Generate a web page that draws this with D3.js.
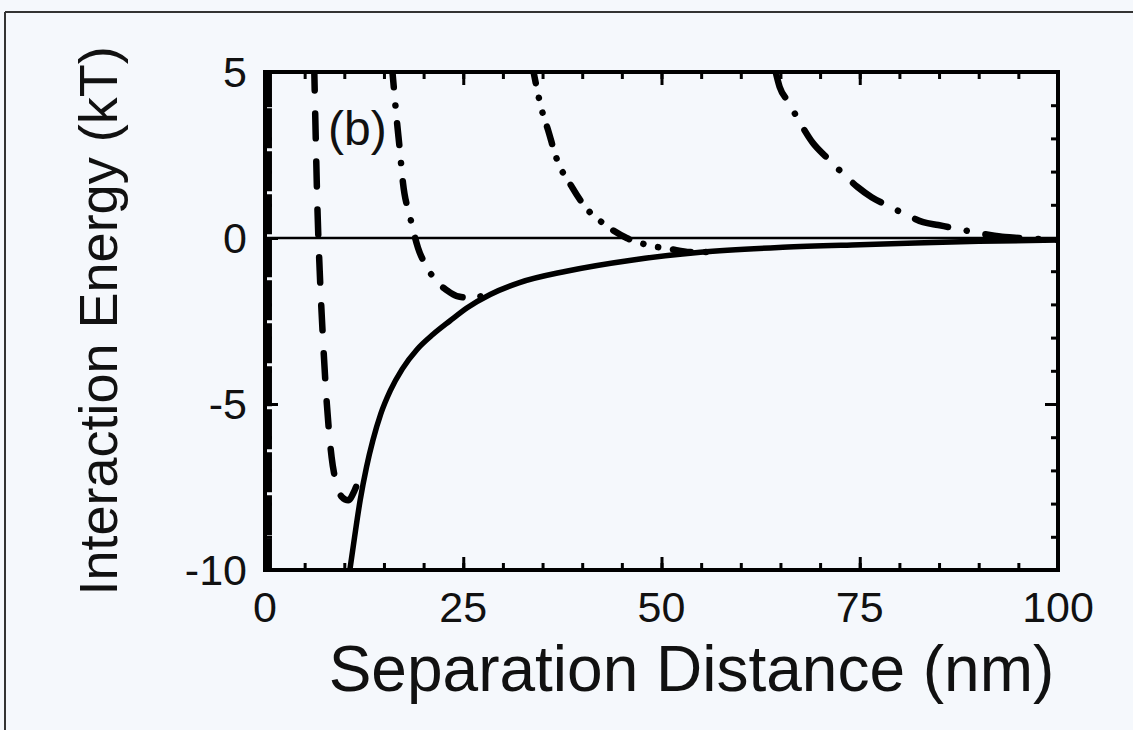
<!DOCTYPE html>
<html>
<head>
<meta charset="utf-8">
<script src="https://cdn.jsdelivr.net/npm/d3@7"></script>
<style>
  html, body { margin: 0; padding: 0; background: #f5f8fc; }
  #chart { width: 1133px; height: 730px; }
  text { font-family: "Liberation Sans", Arial, Helvetica, sans-serif; fill: #111; }
</style>
</head>
<body>
<div id="chart"></div>
<script>
// axis ticks
const xMajorTicks = [0, 25, 50, 75, 100];
const xMinorTicks = [0, 5, 10, 15, 20, 25, 30, 35, 40, 45, 50, 55, 60, 65, 70, 75, 80, 85, 90, 95, 100];
const yMajorTicks = [-10, -5, 0, 5];
const yMinorTicks = [-10, -9, -8, -7, -6, -5, -4, -3, -2, -1, 0, 1, 2, 3, 4, 5];

// curves, [separation nm, energy kT]
const wallCurve = [[0.5, 5.2], [0.5, -10.2]];

const solidCurve = [
  [10.7, -10], [11.3, -9], [12.0, -7.9], [12.8, -6.9], [13.6, -6.1], [14.6, -5.3],
  [15.8, -4.6], [17.3, -3.95], [19.2, -3.35], [21.2, -2.9], [23.3, -2.5], [25.5, -2.1],
  [28.4, -1.7], [32, -1.35], [38, -1.0], [46.4, -0.66], [54.9, -0.43], [65.3, -0.28],
  [75, -0.2], [82, -0.15], [90, -0.1], [100, -0.06]
];

const dashedCurve = [
  [6.2, 5.2], [6.4, 3], [6.6, 1], [6.9, -1], [7.3, -3], [7.8, -5], [8.4, -6.6],
  [9.0, -7.4], [9.7, -7.8], [10.5, -7.9], [11.3, -7.6], [12.1, -7.1], [12.8, -6.9]
];

const dashDotCurve = [
  [16.0, 5.2], [16.6, 3.6], [17.0, 2.65], [17.4, 1.66], [18.3, 0.63], [19.3, -0.3],
  [20.4, -0.87], [21.6, -1.3], [22.9, -1.57], [24.2, -1.75], [25.9, -1.8], [28, -1.7]
];

const dashDotDotCurve = [
  [33.7, 5.2], [34.9, 3.86], [35.7, 3.25], [36.7, 2.44], [38.7, 1.54], [40.4, 0.93],
  [42.6, 0.45], [45.6, 0], [48.2, -0.21], [51.1, -0.33], [53.6, -0.42], [56, -0.42]
];

const longDashDotCurve = [
  [64.2, 5.2], [64.9, 4.55], [66.0, 4.1], [67.5, 3.46], [69.1, 2.86], [70.9, 2.41],
  [72.8, 1.96], [74.7, 1.54], [76.5, 1.23], [78.4, 0.99], [80.7, 0.72], [83.0, 0.48],
  [84.9, 0.39], [86.8, 0.30], [91.4, 0.09], [93.3, 0.03], [95.2, 0], [99, -0.05], [100, -0.06]
];

function renderChart(selector) {
    const margin = {top: 72, right: 75, bottom: 160, left: 265};
    const W = 1133, H = 730;
    const width = 1058 - margin.left;
    const height = 570 - margin.top;

    const svg = d3.select(selector).append("svg")
        .attr("width", W)
        .attr("height", H);

    // page frame
    svg.append("line").attr("x1", 5).attr("x2", 5).attr("y1", 12).attr("y2", H)
        .attr("stroke", "#333").attr("stroke-width", 2);
    svg.append("line").attr("x1", 5).attr("x2", W).attr("y1", 12).attr("y2", 12)
        .attr("stroke", "#333").attr("stroke-width", 2);

    const g = svg.append("g")
        .attr("transform", `translate(${margin.left}, ${margin.top})`);

    const x = d3.scaleLinear().domain([0, 100]).range([0, width]);
    const y = d3.scaleLinear().domain([-10, 5]).range([height, 0]);

    g.append("clipPath").attr("id", "plot-clip")
        .append("rect").attr("width", width).attr("height", height);

    // zero line
    g.append("line")
        .attr("x1", 0).attr("x2", width)
        .attr("y1", y(0)).attr("y2", y(0))
        .attr("stroke", "#000").attr("stroke-width", 2.5);

    const line = d3.line()
        .x(d => x(d[0]))
        .y(d => y(d[1]))
        .curve(d3.curveMonotoneX);

    const curves = g.append("g").attr("clip-path", "url(#plot-clip)");

    curves.append("path")
        .attr("d", d3.line().x(d => x(d[0])).y(d => y(d[1]))(wallCurve))
        .attr("fill", "none").attr("stroke", "#000")
        .attr("stroke-width", 6).attr("stroke-dasharray", "40,3");

    const series = [
        {data: solidCurve, dash: null},
        {data: dashedCurve, dash: "25,23"},
        {data: dashDotCurve, dash: "22,18,0.1,18"},
        {data: dashDotDotCurve, dash: "18,15,0.1,15,0.1,15"},
        {data: longDashDotCurve, dash: "34,19,0.1,19"}
    ];

    curves.selectAll(".curve")
        .data(series)
        .enter()
        .append("path")
        .attr("class", "curve")
        .attr("d", d => line(d.data))
        .attr("fill", "none")
        .attr("stroke", "#000")
        .attr("stroke-width", d => d.dash ? 6.5 : 5.5)
        .attr("stroke-linecap", d => d.dash ? "round" : "butt")
        .attr("stroke-dasharray", d => d.dash);

    // ticks, pointing inward
    const tickStyle = sel => {
        sel.select(".domain").remove();
        sel.selectAll(".tick line").attr("stroke", "#000").attr("stroke-width", 3);
        sel.selectAll(".tick text").remove();
    };
    g.append("g").attr("transform", `translate(0, ${height})`)
        .call(d3.axisBottom(x).tickValues(xMinorTicks).tickSize(-7)).call(tickStyle);
    g.append("g").attr("transform", `translate(0, ${height})`)
        .call(d3.axisBottom(x).tickValues(xMajorTicks).tickSize(-13)).call(tickStyle);
    g.append("g")
        .call(d3.axisTop(x).tickValues(xMinorTicks).tickSize(-7)).call(tickStyle);
    g.append("g")
        .call(d3.axisTop(x).tickValues(xMajorTicks).tickSize(-13)).call(tickStyle);
    g.append("g")
        .call(d3.axisLeft(y).tickValues(yMinorTicks).tickSize(-7)).call(tickStyle);
    g.append("g")
        .call(d3.axisLeft(y).tickValues(yMajorTicks).tickSize(-13)).call(tickStyle);
    g.append("g").attr("transform", `translate(${width}, 0)`)
        .call(d3.axisRight(y).tickValues(yMinorTicks).tickSize(-7)).call(tickStyle);
    g.append("g").attr("transform", `translate(${width}, 0)`)
        .call(d3.axisRight(y).tickValues(yMajorTicks).tickSize(-13)).call(tickStyle);

    // frame
    g.append("rect")
        .attr("width", width).attr("height", height)
        .attr("fill", "none").attr("stroke", "#000").attr("stroke-width", 4);

    // tick labels
    g.selectAll(".xlab")
        .data(xMajorTicks)
        .enter().append("text")
        .attr("class", "xlab")
        .attr("x", d => x(d))
        .attr("y", height + 52)
        .attr("text-anchor", "middle")
        .style("font-size", "43px")
        .text(d => d);

    g.selectAll(".ylab")
        .data(yMajorTicks)
        .enter().append("text")
        .attr("class", "ylab")
        .attr("x", -18)
        .attr("y", d => y(d))
        .attr("dy", "0.36em")
        .attr("text-anchor", "end")
        .style("font-size", "43px")
        .text(d => d);

    // axis titles
    g.append("text")
        .attr("x", width / 2 + 30)
        .attr("y", 619)
        .attr("text-anchor", "middle")
        .style("font-size", "64px")
        .text("Separation Distance (nm)");

    g.append("text")
        .attr("transform", `translate(-148, ${height / 2}) rotate(-90)`)
        .attr("text-anchor", "middle")
        .style("font-size", "54px")
        .text("Interaction Energy (kT)");

    // panel label
    g.append("text")
        .attr("x", 63)
        .attr("y", 73)
        .style("font-size", "48px")
        .text("(b)");
}

renderChart("#chart");
</script>
</body>
</html>
